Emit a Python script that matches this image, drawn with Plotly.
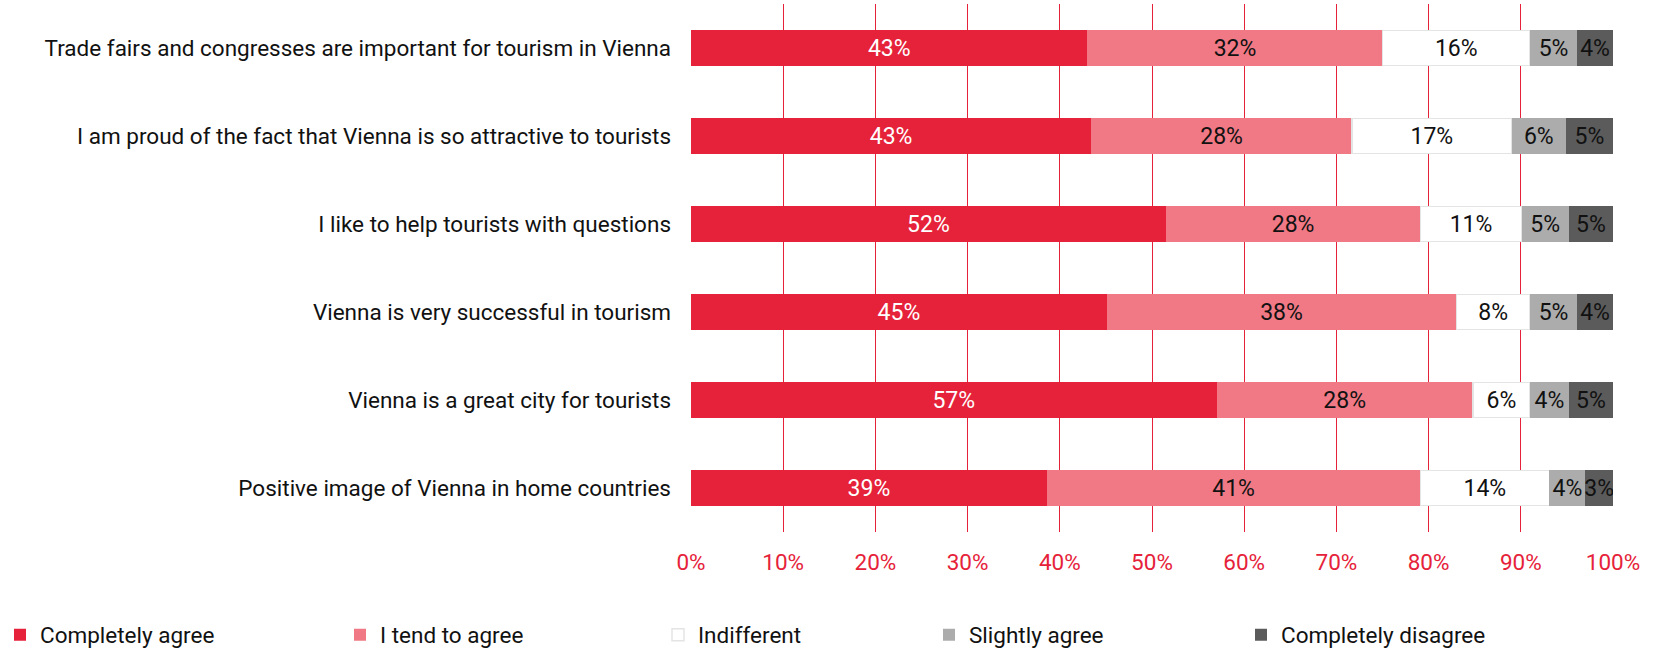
import plotly.graph_objects as go

categories = [
    "Trade fairs and congresses are important for tourism in Vienna",
    "I am proud of the fact that Vienna is so attractive to tourists",
    "I like to help tourists with questions",
    "Vienna is very successful in tourism",
    "Vienna is a great city for tourists",
    "Positive image of Vienna in home countries",
]
series_names = ["Completely agree", "I tend to agree", "Indifferent", "Slightly agree", "Completely disagree"]
completely_agree = [43.0, 43.4, 51.5, 45.1, 57.0, 38.6]
tend_to_agree = [32.0, 28.3, 27.6, 37.9, 27.8, 40.5]
indifferent = [16.0, 17.3, 11.0, 8.0, 6.2, 14.0]
slightly_agree = [5.1, 5.9, 5.1, 5.1, 4.2, 3.9]
completely_disagree = [3.9, 5.1, 4.8, 3.9, 4.8, 3.0]
tick_vals = [0, 10, 20, 30, 40, 50, 60, 70, 80, 90, 100]
tick_text = [f"{v}%" for v in tick_vals]

colors = ["#e6223a", "#f07985", "#ffffff", "#acacac", "#5b5b5b"]
text_colors = ["#ffffff", "#111111", "#111111", "#111111", "#111111"]
line_colors = ["#e6223a", "#f07985", "#e4e4e4", "#acacac", "#5b5b5b"]
line_widths = [0, 0, 1.5, 0, 0]
legend_ids = ["legend", "legend2", "legend3", "legend4", "legend5"]
legend_left_px = [-8, 340, 658, 929, 1241]

FONT = "Roboto, 'Liberation Sans', sans-serif"
W, H = 1662, 649

fig = go.Figure()
all_vals = [completely_agree, tend_to_agree, indifferent, slightly_agree, completely_disagree]
for name, vals, c, tc, lc, lw, lid in zip(series_names, all_vals, colors, text_colors,
                                          line_colors, line_widths, legend_ids):
    fig.add_trace(go.Bar(
        y=categories, x=vals, name=name, orientation="h",
        marker=dict(color=c, line=dict(color=lc, width=lw)),
        texttemplate="%{x:.0f}%", textposition="inside", insidetextanchor="middle",
        textangle=0, constraintext="none",
        textfont=dict(color=tc, size=23, family=FONT),
        hoverinfo="x+name", legend=lid,
    ))

legend_layout = {}
for lid, lx in zip(legend_ids, legend_left_px):
    legend_layout[lid] = dict(
        orientation="h", x=lx / W, xref="container", xanchor="left",
        y=14 / H, yref="container", yanchor="middle",
        font=dict(size=22.5, color="#111111", family=FONT),
        bgcolor="rgba(0,0,0,0)", borderwidth=0,
    )

fig.update_layout(
    barmode="stack",
    bargap=0.6,
    width=W, height=H,
    margin=dict(l=691, r=49, t=4, b=117, autoexpand=False),
    plot_bgcolor="white", paper_bgcolor="white",
    font=dict(family=FONT, size=22.5, color="#111111"),
    xaxis=dict(range=[0, 100], tickvals=tick_vals, ticktext=tick_text,
               showgrid=True, gridcolor="#e6223a", gridwidth=1,
               zeroline=False, showline=False,
               tickfont=dict(color="#e6223a", size=22.5), ticks="", ticklabelstandoff=14),
    yaxis=dict(autorange="reversed", showgrid=False, zeroline=False, showline=False,
               ticks="", ticklabelstandoff=19, tickfont=dict(size=22.5, color="#111111")),
    showlegend=True,
    **legend_layout,
)

fig.write_html("out.html", config={"displayModeBar": False},
               post_script="document.body.style.margin='0';")
